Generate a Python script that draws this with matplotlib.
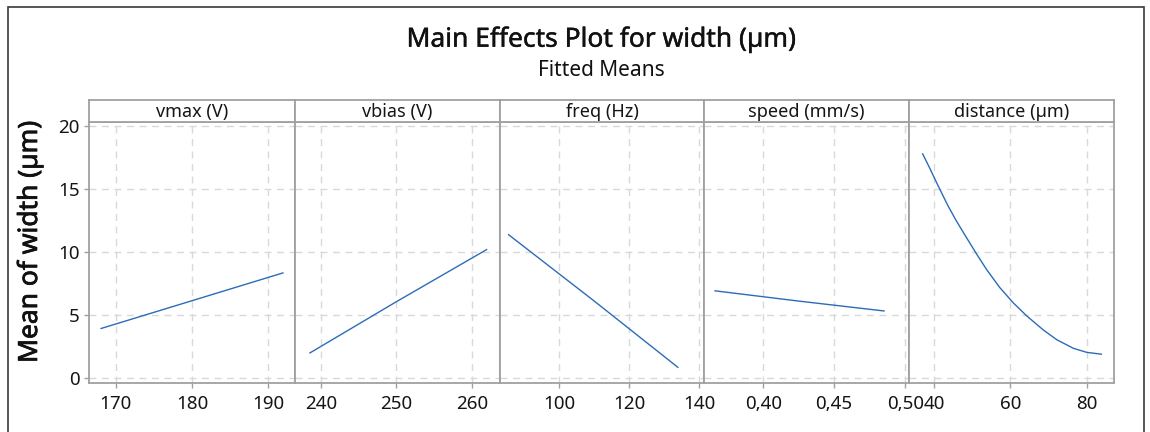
import matplotlib
matplotlib.use("Agg")
import matplotlib.pyplot as plt
import matplotlib.patheffects as pe
from matplotlib.patches import Rectangle
from matplotlib.ticker import FixedLocator

plt.rcParams['font.family'] = ['Noto Sans', 'DejaVu Sans']

# ---- data ----
factors = ["vmax (V)", "vbias (V)", "freq (Hz)", "speed (mm/s)", "distance (µm)"]

vmax_x = [168, 180, 192]
vmax_y = [3.89, 6.11, 8.33]

vbias_x = [238.5, 250, 262]
vbias_y = [1.94, 6.03, 10.19]

freq_x = [85.5, 110, 134.1]
freq_y = [11.38, 6.10, 0.79]

speed_x = [0.3656, 0.425, 0.4856]
speed_y = [6.90, 6.08, 5.29]

dist_x = [36.9, 38.8, 40.6, 42.3, 43.6, 45.8, 48.4, 51.0, 53.7, 57.2, 60.7,
          64.2, 68.6, 72.1, 76.5, 80.0, 84.0]
dist_y = [17.81, 16.65, 15.50, 14.45, 13.65, 12.45, 11.15, 9.87, 8.60, 7.15,
          5.95, 4.92, 3.79, 3.02, 2.33, 2.01, 1.86]

xs = [vmax_x, vbias_x, freq_x, speed_x, dist_x]
ys = [vmax_y, vbias_y, freq_y, speed_y, dist_y]

x_ticks = [[170, 180, 190], [240, 250, 260], [100, 120, 140],
           [0.40, 0.45, 0.50], [40, 60, 80]]
x_ticklabels = [["170", "180", "190"], ["240", "250", "260"],
                ["100", "120", "140"], ["0,40", "0,45", "0,50"],
                ["40", "60", "80"]]
x_lims = [(166.5, 193.5), (236.6, 263.7), (83.2, 141.4),
          (0.3583, 0.5027), (33.4, 87.0)]
y_ticks = [0, 5, 10, 15, 20]
y_lim = (-0.42, 20.29)

title = "Main Effects Plot for width (µm)"
subtitle = "Fitted Means"
ylabel = "Mean of width (µm)"

# ---- layout ----
W, H = 1150, 432
fig = plt.figure(figsize=(W / 100, H / 100), dpi=100)

edges = [89, 295, 500, 704, 909, 1113.5]
ax_top, ax_bot = 122, 383
strip_top = 100
line_col = '#2B6CB8'
frame_col = '#A0A0A0'
grid_col = '#D9D9D9'
text_col = '#151515'

for i in range(5):
    l, r = edges[i], edges[i + 1]
    ax = fig.add_axes([l / W, (H - ax_bot) / H, (r - l) / W, (ax_bot - ax_top) / H])
    ax.plot(xs[i], ys[i], color=line_col, lw=1.0, solid_capstyle='butt')
    ax.set_xlim(*x_lims[i])
    ax.set_ylim(*y_lim)
    ax.xaxis.set_major_locator(FixedLocator(x_ticks[i]))
    ax.set_xticklabels(x_ticklabels[i])
    ax.yaxis.set_major_locator(FixedLocator(y_ticks))
    ax.grid(True, color=grid_col, lw=1.0, ls=(0, (5, 4)))
    ax.set_axisbelow(True)
    for s in ax.spines.values():
        s.set_color(frame_col)
        s.set_linewidth(1.3)
    ax.tick_params(axis='x', direction='out', length=3.5, width=1.0,
                   color=frame_col, labelsize=13.5, pad=5, labelcolor=text_col)
    if i == 0:
        ax.tick_params(axis='y', direction='out', length=3.5, width=1.0,
                       color=frame_col, labelsize=13.5, pad=3, labelcolor=text_col)
    else:
        ax.tick_params(axis='y', left=False, labelleft=False)

    sax = fig.add_axes([l / W, (H - ax_top) / H, (r - l) / W, (ax_top - strip_top) / H])
    sax.set_xticks([])
    sax.set_yticks([])
    for s in sax.spines.values():
        s.set_color(frame_col)
        s.set_linewidth(1.3)
    sax.text(0.5, 0.45, factors[i], ha='center', va='center', fontsize=13,
             color=text_col, transform=sax.transAxes)

cx = (edges[0] + edges[-1]) / 2 / W
fig.text(cx, 1 - 46.7 / H, title, ha='center', va='baseline', fontsize=19,
         color='#111111',
         path_effects=[pe.withStroke(linewidth=0.3, foreground='#111111')])
fig.text(cx, 1 - 76 / H, subtitle, ha='center', va='baseline', fontsize=15,
         color='#111111')
fig.text(30 / W, 1 - 242 / H, ylabel, ha='center', va='center', rotation=90,
         fontsize=19, color='#111111',
         path_effects=[pe.withStroke(linewidth=0.55, foreground='#111111')])

# outer frame
fig.patches.append(Rectangle((8 / W, -0.1), (1144 - 8) / W, 1.1 - 7 / H,
                             transform=fig.transFigure, fill=False,
                             edgecolor='#3a3a3a', lw=1.2))

fig.savefig("out.png", dpi=100)
